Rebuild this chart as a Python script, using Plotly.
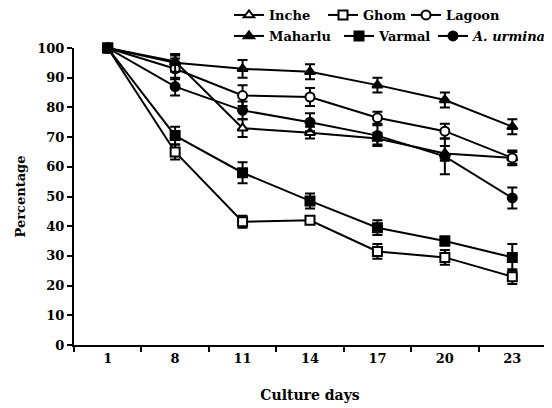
import plotly.graph_objects as go

days = ["1", "8", "11", "14", "17", "20", "23"]

inche = [100, 95.5, 73, 71.5, 69.5, 64.5, 63]
ghom = [100, 65, 41.5, 42, 31.5, 29.5, 23]
lagoon = [100, 93, 84, 83.5, 76.5, 72, 63]
maharlu = [100, 95, 93, 92, 87.5, 82.5, 73.5]
varmal = [100, 70.5, 58, 48.5, 39.5, 35, 29.5]
urmina = [100, 87, 79, 75, 70.5, 63.5, 49.5]

inche_err = [0, 2, 3, 2, 2, 2.5, 2]
ghom_err = [0, 2.5, 2, 1, 2.5, 2.5, 2.5]
lagoon_err = [0, 3.5, 3.5, 3, 2, 2.5, 2.5]
maharlu_err = [0, 3, 3, 2.5, 2.5, 2.5, 2.5]
varmal_err = [0, 3, 3.5, 2.5, 2.5, 1.5, 4.5]
urmina_err = [0, 3, 3, 3, 3.5, 6, 3.5]

series = [
    ("Inche", inche, inche_err, "triangle-up", "white"),
    ("Ghom", ghom, ghom_err, "square", "white"),
    ("Lagoon", lagoon, lagoon_err, "circle", "white"),
    ("Maharlu", maharlu, maharlu_err, "triangle-up", "black"),
    ("Varmal", varmal, varmal_err, "square", "black"),
    ("<i>A. urmina</i>", urmina, urmina_err, "circle", "black"),
]

# legend entry placement (figure pixels): left edge of each entry box, row centre
legend_left_px = [221, 315, 398, 221, 331, 425]
legend_row_px = [7, 7, 7, 28, 28, 28]

FONT = "DejaVu Serif"
WT = "bold"

W, H = 544, 400
L, R, T, B = 66, 6, 40, 63
plot_w = W - L - R
plot_h = H - T - B

def px_x(fx):
    return (fx - L) / plot_w

def px_y(fy):
    return (H - B - fy) / plot_h

fig = go.Figure()
legend_layout = {}
for i, (name, vals, errs, sym, fill) in enumerate(series):
    key = "legend" if i == 0 else f"legend{i + 1}"
    fig.add_trace(go.Scatter(
        x=days, y=vals, name=name, mode="lines+markers",
        line=dict(color="black", width=2),
        marker=dict(symbol=sym, size=9, color=fill,
                    line=dict(color="black", width=2)),
        error_y=dict(type="data", array=errs, visible=True, color="black",
                     thickness=2, width=5),
        cliponaxis=False,
        legend=key,
    ))
    legend_layout[key] = dict(
        x=px_x(legend_left_px[i]), y=px_y(legend_row_px[i]),
        orientation="h", xanchor="left", yanchor="middle",
        font=dict(family=FONT, size=13, color="black", weight=WT),
        bgcolor="rgba(0,0,0,0)", itemwidth=30,
        itemclick=False, borderwidth=0,
    )

fig.update_layout(
    width=W, height=H,
    margin=dict(l=L, r=R, t=T, b=B, autoexpand=False),
    paper_bgcolor="white", plot_bgcolor="white",
    font=dict(family=FONT, color="black", size=13, weight=WT),
    showlegend=True,
    **legend_layout,
)
fig.update_xaxes(
    type="category", tickson="boundaries", range=[-0.5, 6.5],
    showline=True, linecolor="black", linewidth=2,
    ticks="outside", ticklen=5, tickwidth=2, tickcolor="black",
    showgrid=False, zeroline=False, automargin=False,
    tickfont=dict(family=FONT, size=13, weight=WT),
    title=dict(text="Culture days", font=dict(family=FONT, size=14, weight=WT), standoff=26),
)
fig.update_yaxes(
    range=[0, 100], tickmode="linear", tick0=0, dtick=10,
    showline=True, linecolor="black", linewidth=2,
    ticks="outside", ticklen=5, tickwidth=2, tickcolor="black",
    showgrid=False, zeroline=False, automargin=False,
    tickfont=dict(family=FONT, size=13, weight=WT),
    title=dict(text="Percentage", font=dict(family=FONT, size=13, weight=WT), standoff=9),
)

fig.write_html("out.html")
